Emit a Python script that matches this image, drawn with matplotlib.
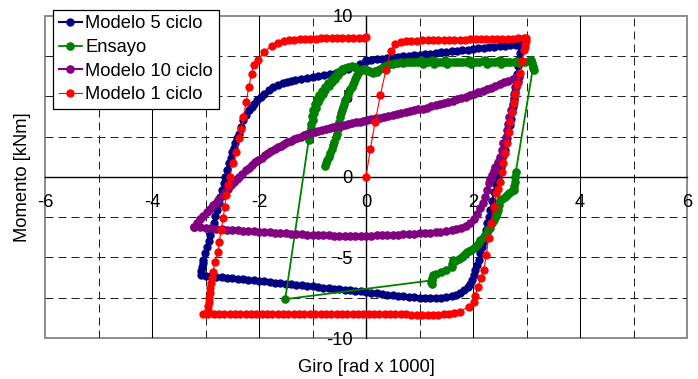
import numpy as np
import matplotlib
matplotlib.use("Agg")
import matplotlib.pyplot as plt

# Momento-giro hysteresis loops: numerical model (1, 5 and 10 cycles) against the test

seriesNames = ["Modelo 5 ciclo", "Ensayo", "Modelo 10 ciclo", "Modelo 1 ciclo"]
xTicks = [-6, -4, -2, 0, 2, 4, 6]
yTicks = [-10, -5, 0, 5, 10]

# Modelo 5 ciclo
blueX = [0.0, 0.1, 0.2, 0.3, 0.4, 0.5, 0.6, 0.7, 0.8, 0.9, 1.0, 1.1, 1.2, 1.3, 1.4,
         1.5, 1.6, 1.7, 1.8, 1.9, 2.0, 2.1, 2.2, 2.3, 2.4, 2.5, 2.6, 2.7, 2.8, 2.9,
         2.92, 2.90, 2.88, 2.86, 2.84, 2.82, 2.80, 2.79, 2.77, 2.76, 2.74, 2.73, 2.71, 2.69,
         2.66, 2.64, 2.62, 2.59, 2.57, 2.54, 2.52, 2.49, 2.46, 2.43, 2.39, 2.36, 2.32, 2.29,
         2.27, 2.24, 2.21, 2.19, 2.17, 2.14, 2.11, 2.07, 2.04, 2.01, 1.98, 1.94, 1.90, 1.84,
         1.76, 1.68, 1.6, 1.5, 1.4, 1.3, 1.2, 1.1, 1.0, 0.9, 0.8, 0.7, 0.6, 0.5, 0.4, 0.3,
         0.2, 0.1, 0.0, -0.1, -0.2, -0.3, -0.4, -0.5, -0.6, -0.7, -0.8, -0.9, -1.0, -1.1,
         -1.2, -1.3, -1.4, -1.5, -1.6, -1.7, -1.8, -1.9, -2.0, -2.1, -2.2, -2.3, -2.4, -2.5,
         -2.6, -2.7, -2.8, -2.9, -3.0, -3.09,
         -3.08, -3.07, -3.05, -3.04, -3.01, -2.97, -2.94, -2.91, -2.88, -2.85, -2.82, -2.79,
         -2.75, -2.72, -2.69, -2.66, -2.63, -2.60, -2.57, -2.53, -2.50, -2.47, -2.44, -2.41,
         -2.38, -2.34, -2.29, -2.24, -2.19, -2.14, -2.10, -2.04, -1.97, -1.9, -1.82, -1.73,
         -1.65, -1.56, -1.48, -1.41, -1.32, -1.22, -1.1, -1.0, -0.9, -0.79, -0.68, -0.57,
         -0.45, -0.33, -0.22, -0.11, 0.0]
blueY = [7.23, 7.27, 7.30, 7.34, 7.37, 7.41, 7.44, 7.48, 7.51, 7.55, 7.58, 7.62, 7.65, 7.69, 7.72,
         7.76, 7.79, 7.83, 7.86, 7.90, 7.93, 7.97, 8.00, 8.04, 8.07, 8.11, 8.14, 8.18, 8.21, 8.25,
         8.26, 8.05, 7.7, 7.3, 6.85, 6.4, 6.0, 5.6, 5.15, 4.75, 4.35, 4.0, 3.6, 3.2,
         2.8, 2.4, 2.07, 1.65, 1.3, 0.95, 0.62, 0.3, 0.0, -0.45, -0.93, -1.5, -2.06, -2.5,
         -2.89, -3.3, -3.72, -4.05, -4.33, -4.75, -5.16, -5.5, -5.78, -6.1, -6.4, -6.62, -6.81, -7.02,
         -7.22, -7.34, -7.42, -7.48, -7.52, -7.53, -7.53, -7.52, -7.5, -7.48, -7.45, -7.42, -7.39, -7.35, -7.31, -7.27,
         -7.23, -7.19, -7.15, -7.11, -7.08, -7.04, -7.01, -6.97, -6.94, -6.9, -6.87, -6.83, -6.8, -6.77,
         -6.73, -6.7, -6.66, -6.63, -6.6, -6.56, -6.53, -6.49, -6.45, -6.42, -6.39, -6.35, -6.32, -6.29,
         -6.25, -6.22, -6.19, -6.16, -6.13, -6.1,
         -5.85, -5.6, -5.35, -5.16, -4.75, -4.33, -3.95, -3.61, -3.25, -2.89, -2.45, -2.06,
         -1.65, -1.24, -0.82, -0.41, 0.0, 0.42, 0.83, 1.2, 1.55, 1.8, 2.07, 2.38,
         2.69, 3.1, 3.51, 3.85, 4.13, 4.35, 4.54, 4.75, 4.97, 5.15, 5.36, 5.57,
         5.7, 5.8, 5.88, 5.93, 5.98, 6.06, 6.15, 6.22, 6.28, 6.34, 6.4, 6.45,
         6.55, 6.68, 6.84, 7.02, 7.2]

# Ensayo
greenX = [-0.76, -0.74, -0.72, -0.70, -0.67, -0.64, -0.61, -0.59, -0.56, -0.54, -0.53, -0.52,
          -0.51, -0.49, -0.47, -0.45, -0.43, -0.41, -0.39, -0.36, -0.33, -0.31, -0.29, -0.27,
          -0.25, -0.23, -0.21, -0.19, -0.17, -0.14,
          -0.1, -0.06, -0.02, 0.02, 0.06, 0.1, 0.14, 0.17, 0.2, 0.23, 0.27, 0.31, 0.35, 0.4,
          0.45, 0.5, 0.55, 0.6, 0.65, 0.7, 0.75, 0.8, 0.86, 0.92, 0.98, 1.03, 1.06, 1.1,
          1.15, 1.2, 1.24, 1.28, 1.32, 1.38, 1.44, 1.48, 1.51, 1.56, 1.62, 1.68, 1.74, 1.8,
          1.86, 1.92, 1.96, 2.0, 2.06, 2.12, 2.18, 2.22, 2.26, 2.3, 2.36, 2.42, 2.47, 2.5,
          2.53, 2.58, 2.64, 2.7, 2.76, 2.82, 2.86, 2.92, 2.98, 3.04, 3.08, 3.11, 3.13, 3.14, 3.12,
          2.80, 2.79, 2.78, 2.77, 2.76, 2.72, 2.68, 2.64, 2.6, 2.55, 2.51, 2.49, 2.47, 2.45,
          2.43, 2.4, 2.36, 2.31, 2.28, 2.26, 2.22, 2.18, 2.14, 2.09, 2.05, 2.01, 1.96, 1.92,
          1.89, 1.85, 1.82, 1.79, 1.73, 1.67, 1.63, 1.61, 1.60, 1.5, 1.4, 1.3, 1.25, 1.23,
          1.22, 1.23, 1.24,
          -1.51, -1.07,
          -1.06, -1.04, -1.03, -1.02, -0.99, -1.01, -0.97, -0.99, -0.94, -0.96, -0.9, -0.92,
          -0.86, -0.87, -0.81, -0.82, -0.76, -0.77, -0.7, -0.71, -0.64, -0.64, -0.58, -0.58,
          -0.52, -0.52, -0.47, -0.44, -0.39, -0.33, -0.27, -0.2]
greenY = [0.66, 0.85, 1.05, 1.24, 1.5, 1.75, 1.98, 2.17, 2.45, 2.69, 2.95, 3.2,
          3.41, 3.7, 3.95, 4.15, 4.33, 4.55, 4.75, 4.95, 5.15, 5.3, 5.45, 5.6,
          5.75, 5.9, 6.05, 6.2, 6.35, 6.5,
          6.62, 6.72, 6.66, 6.6, 6.55, 6.5, 6.42, 6.55, 6.48, 6.62, 6.72, 6.8, 6.86, 6.92,
          6.98, 7.02, 7.04, 7.08, 7.1, 7.06, 7.12, 7.1, 7.14, 7.12, 7.15, 7.22, 7.02, 7.14,
          7.1, 7.16, 7.24, 7.0, 7.12, 7.1, 7.14, 7.24, 7.02, 7.12, 7.1, 7.14, 7.1, 7.12,
          7.14, 7.24, 7.0, 7.1, 7.14, 7.1, 7.16, 7.24, 7.0, 7.1, 7.12, 7.1, 7.16, 7.24,
          7.02, 7.12, 7.1, 7.14, 7.12, 7.18, 7.04, 7.12, 7.12, 7.16, 7.24, 7.05, 6.85, 6.65, 6.75,
          0.3, 0.0, -0.3, -0.55, -0.8, -0.9, -1.0, -1.13, -1.25, -1.35, -1.44, -1.75, -2.05, -2.27,
          -2.45, -2.65, -2.88, -3.15, -3.3, -3.45, -3.62, -3.78, -3.92, -4.15, -4.3, -4.43, -4.52, -4.6,
          -4.66, -4.78, -4.9, -4.98, -5.1, -5.22, -5.18, -5.38, -5.58, -5.75, -5.92, -6.05, -6.12, -6.3,
          -6.5, -6.68, -6.42,
          -7.59, 2.3,
          2.55, 2.8, 3.05, 3.3, 3.55, 3.75, 3.95, 4.15, 4.3, 4.5, 4.62, 4.8,
          4.9, 5.08, 5.15, 5.32, 5.4, 5.58, 5.65, 5.82, 5.88, 6.05, 6.1, 6.27,
          6.32, 6.48, 6.55, 6.68, 6.75, 6.82, 6.85, 6.8]

# Modelo 10 ciclo
purpleX = [-3.22, -3.16, -3.1, -3.04, -2.98, -2.92, -2.86, -2.81, -2.76, -2.70, -2.64, -2.58,
           -2.52, -2.46, -2.41, -2.37, -2.31, -2.25, -2.19, -2.13, -2.07, -2.01, -1.95, -1.89,
           -1.83, -1.77, -1.71, -1.65, -1.59, -1.53, -1.47, -1.41, -1.35, -1.29, -1.22, -1.16,
           -1.1, -1.03, -0.96, -0.89, -0.82, -0.75, -0.68, -0.61, -0.54, -0.47, -0.4, -0.33,
           -0.26, -0.19, -0.12, -0.05, 0.02, 0.1, 0.18, 0.26, 0.34, 0.42, 0.5, 0.58,
           0.66, 0.74, 0.82, 0.9, 0.98, 1.06, 1.14, 1.22, 1.3, 1.38, 1.46, 1.54,
           1.62, 1.7, 1.78, 1.86, 1.94, 2.02, 2.1, 2.18, 2.26, 2.34, 2.42, 2.5,
           2.58, 2.66, 2.74, 2.82, 2.86,
           2.84, 2.81, 2.78, 2.76, 2.74, 2.71, 2.68, 2.66, 2.64, 2.61, 2.57, 2.54,
           2.50, 2.46, 2.42, 2.39, 2.36, 2.32, 2.29, 2.26, 2.23, 2.19, 2.14, 2.08,
           2.01, 1.94, 1.86, 1.77, 1.68, 1.6, 1.5, 1.39, 1.3, 1.2, 1.1, 1.0,
           0.9, 0.8, 0.7, 0.6, 0.5, 0.4, 0.3, 0.2, 0.1, 0.0, -0.1, -0.2,
           -0.3, -0.4, -0.5, -0.6, -0.7, -0.8, -0.9, -1.0, -1.1, -1.2, -1.3, -1.4,
           -1.5, -1.6, -1.7, -1.8, -1.9, -2.0, -2.1, -2.2, -2.3, -2.4, -2.5, -2.6,
           -2.7, -2.8, -2.9, -3.0, -3.1, -3.22]
purpleY = [-3.1, -2.87, -2.64, -2.41, -2.18, -1.97, -1.76, -1.6, -1.44, -1.2, -0.96, -0.73,
           -0.52, -0.32, -0.14, 0.0, 0.2, 0.4, 0.58, 0.75, 0.9, 1.05, 1.2, 1.33,
           1.46, 1.6, 1.72, 1.83, 1.94, 2.04, 2.14, 2.23, 2.32, 2.4, 2.49, 2.57,
           2.64, 2.72, 2.79, 2.85, 2.91, 2.97, 3.02, 3.08, 3.13, 3.18, 3.23, 3.28,
           3.33, 3.38, 3.43, 3.48, 3.53, 3.58, 3.63, 3.68, 3.73, 3.79, 3.84, 3.9,
           3.95, 4.01, 4.06, 4.12, 4.18, 4.24, 4.3, 4.37, 4.43, 4.5, 4.57, 4.64,
           4.72, 4.8, 4.88, 4.97, 5.06, 5.15, 5.24, 5.33, 5.43, 5.53, 5.64, 5.75,
           5.86, 5.97, 6.08, 6.18, 6.22,
           5.9, 5.6, 5.26, 4.9, 4.54, 4.13, 3.72, 3.3, 2.89, 2.48, 2.07, 1.66,
           1.24, 0.93, 0.62, 0.36, 0.1, -0.15, -0.41, -0.82, -1.24, -1.6, -1.95, -2.3,
           -2.6, -2.85, -3.02, -3.15, -3.23, -3.29, -3.34, -3.4, -3.43, -3.46, -3.48, -3.5,
           -3.52, -3.54, -3.56, -3.58, -3.59, -3.61, -3.62, -3.63, -3.65, -3.66, -3.66, -3.66,
           -3.66, -3.65, -3.65, -3.64, -3.63, -3.62, -3.61, -3.59, -3.58, -3.56, -3.54, -3.52,
           -3.5, -3.48, -3.46, -3.44, -3.42, -3.4, -3.38, -3.36, -3.34, -3.32, -3.29, -3.27,
           -3.24, -3.21, -3.18, -3.15, -3.12, -3.1]

# Modelo 1 ciclo
redX = [0.0, 0.08, 0.17, 0.27, 0.37, 0.46, 0.55, 0.65, 0.75,
        0.85, 0.95, 1.05, 1.15, 1.25, 1.35, 1.45, 1.55, 1.65, 1.75, 1.85, 1.95, 2.05, 2.15,
        2.25, 2.35, 2.45, 2.55, 2.65, 2.75, 2.85, 2.95,
        2.99, 2.985, 2.975, 2.965, 2.95, 2.92, 2.87, 2.83, 2.79, 2.76, 2.73, 2.70, 2.67, 2.64,
        2.60, 2.57, 2.54, 2.50, 2.46, 2.43, 2.39, 2.34, 2.29, 2.25, 2.20, 2.15, 2.09, 2.04,
        2.01, 1.92, 1.76, 1.65,
        1.55, 1.45, 1.35, 1.25, 1.15, 1.05, 0.95, 0.85, 0.75, 0.65, 0.55, 0.45, 0.35, 0.25,
        0.15, 0.05, -0.05, -0.15, -0.25, -0.35, -0.45, -0.55, -0.65, -0.75, -0.85, -0.95,
        -1.05, -1.15, -1.25, -1.35, -1.45, -1.55, -1.65, -1.75, -1.85, -1.95, -2.05, -2.15,
        -2.25, -2.35, -2.45, -2.55, -2.65, -2.75, -2.85, -2.95, -3.04,
        -2.96, -2.95, -2.94, -2.93, -2.92, -2.91, -2.90, -2.88, -2.86, -2.82, -2.77, -2.74,
        -2.71, -2.67, -2.64, -2.61, -2.58, -2.55, -2.49, -2.43, -2.37, -2.33, -2.29, -2.24,
        -2.19, -2.14, -2.10, -2.02, -1.91, -1.76, -1.64, -1.54,
        -1.44, -1.34, -1.24, -1.14, -1.04, -0.94, -0.84, -0.74, -0.64, -0.54, -0.44, -0.34,
        -0.24, -0.14, -0.04, 0.0]
redY = [0.0, 1.7, 3.4, 5.1, 6.6, 7.8, 8.25, 8.36, 8.42,
        8.45, 8.46, 8.47, 8.47, 8.48, 8.49, 8.5, 8.5, 8.51, 8.52, 8.52, 8.53, 8.54, 8.54,
        8.55, 8.56, 8.56, 8.57, 8.58, 8.58, 8.59, 8.6,
        8.62, 8.45, 8.25, 8.05, 7.85, 7.18, 6.44, 5.78, 5.12, 4.58, 4.02, 3.41, 2.79, 2.07,
        1.45, 0.87, 0.31, -0.3, -0.75, -1.03, -1.86, -2.89, -3.81, -4.85, -5.78, -6.29, -6.81, -7.39,
        -7.74, -8.05, -8.36, -8.46,
        -8.52, -8.54, -8.55, -8.55, -8.55, -8.55, -8.55, -8.55, -8.54, -8.54, -8.54, -8.54, -8.54, -8.54,
        -8.53, -8.53, -8.53, -8.53, -8.53, -8.53, -8.53, -8.52, -8.52, -8.52, -8.52, -8.52,
        -8.52, -8.52, -8.51, -8.51, -8.51, -8.51, -8.51, -8.51, -8.51, -8.51, -8.5, -8.5,
        -8.5, -8.5, -8.5, -8.5, -8.5, -8.5, -8.5, -8.5, -8.5,
        -8.25, -8.0, -7.75, -7.5, -7.22, -6.9, -6.6, -6.25, -5.88, -5.26, -4.64, -4.02,
        -3.3, -2.58, -1.86, -1.13, -0.51, 0.0, 0.83, 1.55, 2.38, 3.0, 3.72, 4.64,
        5.57, 6.4, 6.92, 7.27, 7.74, 8.15, 8.32, 8.42,
        8.47, 8.5, 8.53, 8.55, 8.57, 8.58, 8.6, 8.6, 8.61, 8.62, 8.62, 8.63,
        8.63, 8.64, 8.64, 8.65]


def setupAxes(fig):
    ax = fig.add_axes([45 / 698, 1 - 338 / 379, 642 / 698, 322.3 / 379])
    ax.set_xlim(-6, 6)
    ax.set_ylim(-10, 10)

    # solid grid on even x, dashed on odd x and every 2.5 in y
    for x in [-4, -2, 2, 4]:
        ax.axvline(x, color="black", lw=0.75, zorder=1)
    for x in [-5, -3, -1, 1, 3, 5]:
        ax.axvline(x, color="#222222", lw=0.72, ls=(0, (8, 5)), zorder=1)
    for y in [-7.5, -5, -2.5, 2.5, 5, 7.5]:
        ax.axhline(y, color="#222222", lw=0.72, ls=(0, (8, 5)), zorder=1)

    # axes crossing at the origin, grey outer frame
    ax.spines["left"].set_position(("data", 0))
    ax.spines["bottom"].set_position(("data", 0))
    ax.spines["top"].set_visible(False)
    ax.spines["right"].set_visible(False)
    for s in ["left", "bottom"]:
        ax.spines[s].set_color("black")
        ax.spines[s].set_linewidth(1.0)
        ax.spines[s].set_zorder(1.5)
    ax.patch.set_edgecolor("#8c8c8c")
    ax.patch.set_linewidth(1.4)

    ax.set_xticks(xTicks)
    ax.set_yticks(yTicks)
    ax.tick_params(length=0, labelsize=13.2)
    ax.tick_params(axis="x", pad=12.5)
    ax.tick_params(axis="y", pad=9.5)

    ax.set_xlabel("Giro [rad x 1000]", fontsize=13.2)
    ax.set_ylabel("Momento [kNm]", fontsize=13.2)
    ax.xaxis.set_label_coords(0.5, -0.064)
    ax.yaxis.set_label_coords(-0.022, 0.5)
    return ax


def plotter():
    plt.rcParams["font.family"] = ["Liberation Sans", "DejaVu Sans"]
    plt.rcParams["axes.unicode_minus"] = False

    fig = plt.figure(figsize=(6.98, 3.79), dpi=100)
    ax = setupAxes(fig)

    ax.plot(blueX, blueY, color="#000080", lw=1.5, marker="o", ms=5.0,
            label=seriesNames[0], zorder=3)
    ax.plot(greenX, greenY, color="#008000", lw=1.3, marker="o", ms=5.2,
            label=seriesNames[1], zorder=4)
    ax.plot(purpleX, purpleY, color="#800080", lw=1.5, marker="o", ms=5.2,
            label=seriesNames[2], zorder=5)
    ax.plot(redX, redY, color="#ff0000", lw=0.8, marker="o", ms=5.0,
            label=seriesNames[3], zorder=6)

    leg = ax.legend(loc="upper left", bbox_to_anchor=(53 / 698, 1 - 10 / 379),
                    bbox_transform=fig.transFigure, borderaxespad=0, fancybox=False,
                    edgecolor="black", framealpha=1, numpoints=1, handlelength=1.26,
                    handletextpad=0.2, borderpad=0.3, labelspacing=0.36, fontsize=13.2)
    leg.get_frame().set_linewidth(0.9)
    leg.set_zorder(10)

    fig.savefig("out.png", dpi=100)


if __name__ == "__main__":
    plotter()
